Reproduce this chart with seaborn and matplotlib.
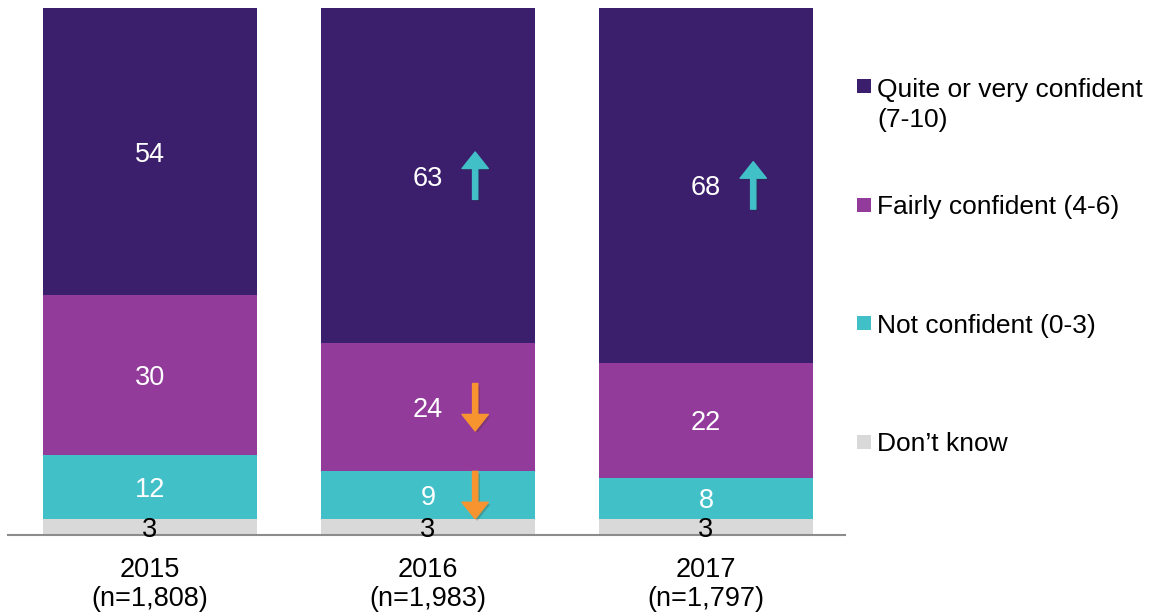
import numpy as np
import matplotlib.pyplot as plt
import matplotlib.patheffects as pe
from matplotlib.patches import Rectangle
import seaborn as sns

# Data (percent, as labelled on the chart)
years = ['2015', '2016', '2017']
sample_sizes = ['1,808', '1,983', '1,797']
categories = ['Don\u2019t know', 'Not confident (0-3)', 'Fairly confident (4-6)',
              'Quite or very confident\n(7-10)']
dont_know = [3, 3, 3]
not_confident = [12, 9, 8]
fairly_confident = [30, 24, 22]
very_confident = [54, 63, 68]

colors = ['#d9d9d9', '#42c0c8', '#923b9b', '#3c1f6c']
label_colors = ['black', 'white', 'white', 'white']

# significant changes vs previous wave: (year index, series index, direction)
changes = [(1, 3, 'up'), (2, 3, 'up'), (1, 2, 'down'), (1, 1, 'down')]
arrow_colors = {'up': '#42c0c8', 'down': '#f7942f'}

series = np.array([dont_know, not_confident, fairly_confident, very_confident], dtype=float)
shares = series / series.sum(axis=0) * 100   # bars are drawn as 100% stacked
tops = np.cumsum(shares, axis=0)
bottoms = tops - shares

sns.set_style('white')
plt.rcParams['font.family'] = ['Liberation Sans', 'DejaVu Sans']

fig = plt.figure(figsize=(11.65, 6.13), dpi=100)
ax = fig.add_axes([8 / 1165, 1 - 535 / 613, 837 / 1165, 527 / 613])

# stacked bars: draw cumulative tops from the largest down
for i in reversed(range(len(series))):
    sns.barplot(x=years, y=tops[i], color=colors[i], saturation=1, width=0.77,
                linewidth=0, ax=ax)

# value labels
for i in range(len(series)):
    for j in range(len(years)):
        ax.text(j, bottoms[i][j] + shares[i][j] / 2, f'{int(series[i][j])}',
                ha='center', va='center_baseline', color=label_colors[i], fontsize=19.5)

# significance arrows
for j, i, d in changes:
    yc = bottoms[i][j] + shares[i][j] / 2
    x = j + 0.17
    if d == 'up':
        tail, tip = (x, yc - 4.5), (x, yc + 4.5)
    else:
        tail, tip = (x, yc + 4.5), (x, yc - 4.5)
    ann = ax.annotate('', xy=tip, xytext=tail,
                      arrowprops=dict(arrowstyle='simple,head_length=0.85,head_width=1.35,tail_width=0.27',
                                      color=arrow_colors[d], mutation_scale=14,
                                      shrinkA=0, shrinkB=0))
    ann.arrow_patch.set_path_effects([pe.SimplePatchShadow(offset=(1.5, -1.5), alpha=0.25),
                                      pe.Normal()])

ax.set_xlim(-0.51, 2.5)
ax.set_ylim(0, 100)
ax.set_xticks(range(len(years)))
ax.set_xticklabels([f'{y}\n(n={n})' for y, n in zip(years, sample_sizes)], fontsize=19.5,
                   linespacing=1.15)
ax.tick_params(axis='x', length=0, pad=16, colors='black')
ax.set_yticks([])
ax.set_xlabel('')
ax.set_ylabel('')
for s in ['top', 'left', 'right']:
    ax.spines[s].set_visible(False)
ax.spines['bottom'].set_color('#8c8c8c')
ax.spines['bottom'].set_linewidth(1.5)

# legend on the right, top entry first (square lines up with the first text line)
for k, i in enumerate(reversed(range(len(series)))):
    yc = 1 - (86 + 118.5 * k) / 613
    n_lines = categories[i].count('\n')
    fig.patches.append(Rectangle((857 / 1165, yc - 7 / 613), 14 / 1165, 14 / 613,
                                 transform=fig.transFigure, color=colors[i], linewidth=0))
    fig.text(877 / 1165, yc - (9.5 + 32 * n_lines) / 613, categories[i], va='baseline',
             ha='left', fontsize=19, linespacing=1.35, color='black')

fig.savefig('out.png', dpi=100)
